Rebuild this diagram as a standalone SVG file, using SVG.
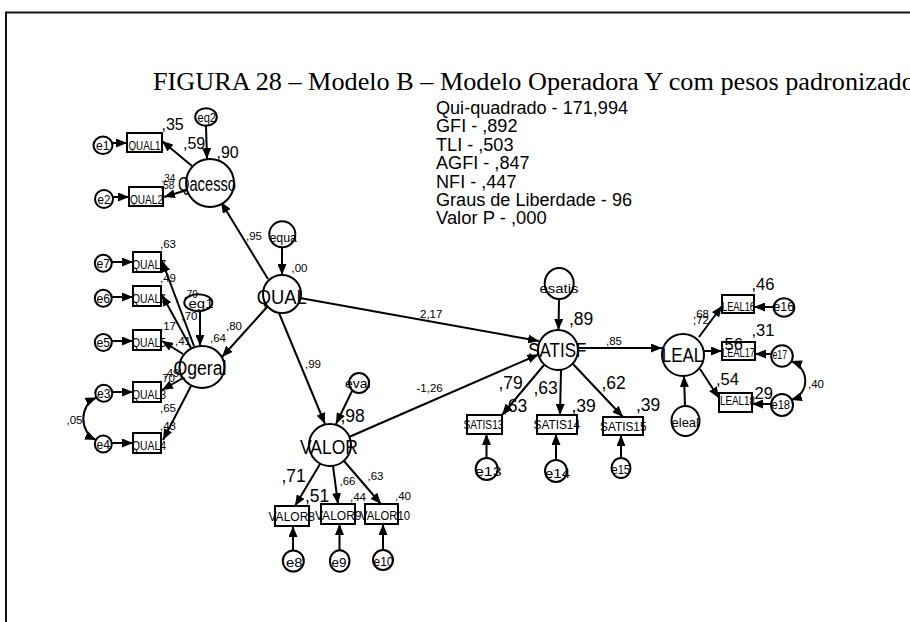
<svg xmlns="http://www.w3.org/2000/svg" width="910" height="622" viewBox="0 0 910 622">
  <defs>
    <style>
      text { font-family: "Liberation Sans", Arial, sans-serif; fill: #000; }
      .ttl { font-family: "Liberation Serif", "Times New Roman", serif; font-size: 25px; }
      .st { font-size: 17.5px; }
      .ln { font-size: 19.5px; }
      .on { font-size: 13px; }
      .on2 { font-size: 12.5px; }
      .en { font-size: 13.5px; }
      .sm { font-size: 11.5px; }
      .xs { font-size: 10px; }
      .md { font-size: 16px; }
      .lg { font-size: 17.5px; }
      .le { font-size: 16.5px; }
      .lat, .box, .err { fill: #fff; stroke: #000; stroke-width: 2; }
      .cn { fill: none; stroke: #000; stroke-width: 2; marker-end: url(#ah); }
      .cv { fill: none; stroke: #000; stroke-width: 2; marker-start: url(#ah); marker-end: url(#ah); }
      .frame { fill: none; stroke: #111; stroke-width: 2; }
    </style>
    <marker id="ah" markerUnits="userSpaceOnUse" viewBox="0 0 11 9" markerWidth="11" markerHeight="9" refX="11" refY="4.5" orient="auto-start-reverse">
      <path d="M0,0 L11,4.5 L0,9 z" fill="#000"/>
    </marker>
  </defs>

  <rect width="910" height="622" fill="#fff"/>
  <path class="frame" d="M6,622 V12.5 H910"/>

  <!-- heading and fit statistics -->
  <text class="ttl" x="153" y="90" textLength="772" lengthAdjust="spacingAndGlyphs">FIGURA 28 – Modelo B – Modelo Operadora Y com pesos padronizados</text>
  <g id="fit-stats" class="st">
    <text x="436" y="114" textLength="192" lengthAdjust="spacingAndGlyphs">Qui-quadrado - 171,994</text>
    <text x="436" y="132.4" textLength="81.5" lengthAdjust="spacingAndGlyphs">GFI - ,892</text>
    <text x="436" y="150.8" textLength="77.5" lengthAdjust="spacingAndGlyphs">TLI - ,503</text>
    <text x="436" y="169.2" textLength="93.6" lengthAdjust="spacingAndGlyphs">AGFI - ,847</text>
    <text x="436" y="187.6" textLength="80.5" lengthAdjust="spacingAndGlyphs">NFI - ,447</text>
    <text x="436" y="206" textLength="196" lengthAdjust="spacingAndGlyphs">Graus de Liberdade - 96</text>
    <text x="436" y="224.4" textLength="110.7" lengthAdjust="spacingAndGlyphs">Valor P - ,000</text>
  </g>

  <!-- paths (drawn under the variables) -->
  <g id="connectors">
    <!-- Qacesso block -->
    <path class="cn" d="M206,126 L207,159"/>
    <path class="cn" d="M192,166 L162,141"/>
    <path class="cn" d="M187,190 L164,197"/>
    <path class="cn" d="M112.5,143 L127,143"/>
    <path class="cn" d="M113,197 L129,197"/>
    <path class="cn" d="M268,279 L221,202"/>
    <!-- Qgeral block -->
    <path class="cn" d="M200,311 L200,346"/>
    <path class="cn" d="M194,346 L162,261"/>
    <path class="cn" d="M191,348 L162,295"/>
    <path class="cn" d="M183,354 L162,341"/>
    <path class="cn" d="M183,378 L162,390"/>
    <path class="cn" d="M191,386 L163,440"/>
    <path class="cn" d="M112,262 L133,262"/>
    <path class="cn" d="M112,297 L133,297"/>
    <path class="cn" d="M112,341 L133,341"/>
    <path class="cn" d="M112,392 L133,392"/>
    <path class="cn" d="M112,443 L133,443"/>
    <path class="cv" d="M96.5,397.5 C79,405 79,432 96,440"/>
    <path class="cn" d="M267,307 L222,357"/>
    <!-- QUAL and VALOR -->
    <path class="cn" d="M282,247 L282,275"/>
    <path class="cn" d="M279,313 L325,424"/>
    <path class="cn" d="M300,298 L539,341"/>
    <path class="cn" d="M349,437 L538.5,354.5"/>
    <path class="cn" d="M352,391 L336,424"/>
    <path class="cn" d="M320,464 L295,506"/>
    <path class="cn" d="M333,466 L338,504"/>
    <path class="cn" d="M344,461 L381,504"/>
    <path class="cn" d="M293,550 L293,526"/>
    <path class="cn" d="M339.5,550 L339.5,524"/>
    <path class="cn" d="M383,550 L383,524"/>
    <!-- SATISF block -->
    <path class="cn" d="M559,299 L558.5,330"/>
    <path class="cn" d="M578,348 L662,348"/>
    <path class="cn" d="M544,365 L502,415"/>
    <path class="cn" d="M561,370 L560,415"/>
    <path class="cn" d="M573,364 L623,417"/>
    <path class="cn" d="M486.5,458 L486.5,434"/>
    <path class="cn" d="M556,460 L556,434"/>
    <path class="cn" d="M621,458 L621,435"/>
    <!-- LEAL block -->
    <path class="cn" d="M685,406 L684,376"/>
    <path class="cn" d="M699,337 L722,306"/>
    <path class="cn" d="M704,351 L722,351"/>
    <path class="cn" d="M700,369 L719,398"/>
    <path class="cn" d="M774,307 L754,307"/>
    <path class="cn" d="M771,354 L755,354"/>
    <path class="cn" d="M771,404 L752,404"/>
    <path class="cv" d="M791,361 C810,368 810,394 791,400"/>
  </g>

  <!-- latent variables -->
  <g id="Qacesso"><circle class="lat" cx="210" cy="183" r="24"/><text class="ln" x="178" y="191" textLength="58" lengthAdjust="spacingAndGlyphs">Qacesso</text></g>
  <g id="Qgeral"><ellipse class="lat" cx="202" cy="367" rx="22.5" ry="21"/><text class="ln" x="173.5" y="375" textLength="53" lengthAdjust="spacingAndGlyphs">Qgeral</text></g>
  <g id="QUAL"><circle class="lat" cx="282" cy="294" r="19"/><text class="ln" x="256.7" y="304.3" textLength="50" lengthAdjust="spacingAndGlyphs">QUAL</text></g>
  <g id="VALOR"><circle class="lat" cx="330" cy="445" r="21"/><text class="ln" x="300" y="454" textLength="58" lengthAdjust="spacingAndGlyphs">VALOR</text></g>
  <g id="SATISF"><circle class="lat" cx="558" cy="350" r="20"/><text class="ln" x="528.3" y="357.3" textLength="58" lengthAdjust="spacingAndGlyphs">SATISF</text></g>
  <g id="LEAL"><circle class="lat" cx="683" cy="355" r="21"/><text class="ln" x="661.7" y="362.3" textLength="41.6" lengthAdjust="spacingAndGlyphs">LEAL</text></g>

  <!-- observed indicators -->
  <g id="QUAL1"><rect class="box" x="127" y="133" width="35" height="19"/><text class="on" x="128.5" y="149.5" textLength="32" lengthAdjust="spacingAndGlyphs">QUAL1</text></g>
  <g id="QUAL2"><rect class="box" x="129" y="187" width="34" height="19"/><text class="on" x="130" y="203.5" textLength="33" lengthAdjust="spacingAndGlyphs">QUAL2</text></g>
  <g id="QUAL7"><rect class="box" x="133" y="252" width="28" height="20"/><text class="on" x="132" y="268.5" textLength="34" lengthAdjust="spacingAndGlyphs">QUAL7</text></g>
  <g id="QUAL6"><rect class="box" x="133" y="286" width="28" height="20"/><text class="on" x="132" y="302.5" textLength="34" lengthAdjust="spacingAndGlyphs">QUAL6</text></g>
  <g id="QUAL5"><rect class="box" x="133" y="330" width="28" height="20"/><text class="on" x="132" y="346.5" textLength="34" lengthAdjust="spacingAndGlyphs">QUAL5</text></g>
  <g id="QUAL3"><rect class="box" x="133" y="382" width="28" height="20"/><text class="on" x="132" y="398.5" textLength="34" lengthAdjust="spacingAndGlyphs">QUAL3</text></g>
  <g id="QUAL4"><rect class="box" x="133" y="433" width="28" height="20"/><text class="on" x="132" y="449.5" textLength="34" lengthAdjust="spacingAndGlyphs">QUAL4</text></g>
  <g id="VALOR8"><rect class="box" x="275" y="506" width="34" height="20"/><text class="on2" x="268.5" y="521" textLength="46.5" lengthAdjust="spacingAndGlyphs">VALOR8</text></g>
  <g id="VALOR9"><rect class="box" x="321" y="504" width="34" height="20"/><text class="on2" x="315" y="519.5" textLength="46.5" lengthAdjust="spacingAndGlyphs">VALOR9</text></g>
  <g id="VALOR10"><rect class="box" x="365" y="504" width="33" height="20"/><text class="on2" x="360" y="519.5" textLength="50" lengthAdjust="spacingAndGlyphs">VALOR10</text></g>
  <g id="SATIS13"><rect class="box" x="467" y="415" width="35" height="19"/><text class="on2" x="463.5" y="429" textLength="40" lengthAdjust="spacingAndGlyphs">SATIS13</text></g>
  <g id="SATIS14"><rect class="box" x="537" y="415" width="40" height="19"/><text class="on2" x="533.5" y="429" textLength="46.5" lengthAdjust="spacingAndGlyphs">SATIS14</text></g>
  <g id="SATIS15"><rect class="box" x="603" y="417" width="40" height="18"/><text class="on2" x="600" y="430.5" textLength="46.5" lengthAdjust="spacingAndGlyphs">SATIS15</text></g>
  <g id="LEAL16"><rect class="box" x="722" y="295" width="32" height="18"/><text class="on2" x="722" y="310.5" textLength="33" lengthAdjust="spacingAndGlyphs">LEAL16</text></g>
  <g id="LEAL17"><rect class="box" x="722" y="342" width="33" height="18"/><text class="on2" x="722" y="357" textLength="33" lengthAdjust="spacingAndGlyphs">LEAL17</text></g>
  <g id="LEAL18"><rect class="box" x="719" y="393" width="33" height="19"/><text class="on2" x="720" y="405" textLength="35" lengthAdjust="spacingAndGlyphs">LEAL18</text></g>

  <!-- residuals and disturbances -->
  <g id="e1"><ellipse class="err" cx="103" cy="145.3" rx="9.5" ry="8.7"/><text class="en" x="96" y="150" textLength="13.5" lengthAdjust="spacingAndGlyphs">e1</text></g>
  <g id="eq2"><ellipse class="err" cx="206" cy="117" rx="10.8" ry="8.8"/><text class="en" x="197.5" y="121.5" textLength="18.5" lengthAdjust="spacingAndGlyphs">eq2</text></g>
  <g id="e2"><circle class="err" cx="104" cy="199" r="9"/><text class="en" x="97.5" y="203.5" textLength="13" lengthAdjust="spacingAndGlyphs">e2</text></g>
  <g id="e7"><circle class="err" cx="103.3" cy="263.3" r="8.5"/><text class="en" x="96.5" y="267.5" textLength="13.5" lengthAdjust="spacingAndGlyphs">e7</text></g>
  <g id="e6"><circle class="err" cx="103.3" cy="298.3" r="8.5"/><text class="en" x="96.5" y="302.5" textLength="13.5" lengthAdjust="spacingAndGlyphs">e6</text></g>
  <g id="e5"><circle class="err" cx="103.3" cy="342.5" r="8.5"/><text class="en" x="96.5" y="347" textLength="13.5" lengthAdjust="spacingAndGlyphs">e5</text></g>
  <g id="e3"><circle class="err" cx="103.8" cy="393.3" r="8.5"/><text class="en" x="97" y="397.5" textLength="13.5" lengthAdjust="spacingAndGlyphs">e3</text></g>
  <g id="e4"><circle class="err" cx="103.3" cy="444" r="8.5"/><text class="en" x="96.5" y="448.5" textLength="13.5" lengthAdjust="spacingAndGlyphs">e4</text></g>
  <g id="eg1"><ellipse class="err" cx="198.3" cy="302.7" rx="14" ry="8.5"/><text class="en" x="188.5" y="308" textLength="25" lengthAdjust="spacingAndGlyphs">eg1</text></g>
  <g id="equa"><circle class="err" cx="282.3" cy="234.3" r="13"/><text class="en" x="269.5" y="241.5" textLength="27.5" lengthAdjust="spacingAndGlyphs">equa</text></g>
  <g id="eval"><circle class="err" cx="359" cy="383" r="10"/><text class="en" x="345" y="388" textLength="25.5" lengthAdjust="spacingAndGlyphs">eval</text></g>
  <g id="e8"><circle class="err" cx="293.3" cy="561" r="10.5"/><text class="en" x="286" y="566.5" textLength="16.5" lengthAdjust="spacingAndGlyphs">e8</text></g>
  <g id="e9"><ellipse class="err" cx="339.7" cy="561" rx="9.8" ry="10.8"/><text class="en" x="331.5" y="566.5" textLength="15" lengthAdjust="spacingAndGlyphs">e9</text></g>
  <g id="e10"><circle class="err" cx="383" cy="560" r="10"/><text class="en" x="373.5" y="566" textLength="20" lengthAdjust="spacingAndGlyphs">e10</text></g>
  <g id="esatis"><ellipse class="err" cx="559.2" cy="283.5" rx="14.5" ry="15.5"/><text class="en" x="539.5" y="293" textLength="39" lengthAdjust="spacingAndGlyphs">esatis</text></g>
  <g id="e13"><circle class="err" cx="486.7" cy="469" r="11"/><text class="en" x="475" y="476" textLength="26.5" lengthAdjust="spacingAndGlyphs">e13</text></g>
  <g id="e14"><circle class="err" cx="556" cy="471" r="11"/><text class="en" x="545" y="478" textLength="25" lengthAdjust="spacingAndGlyphs">e14</text></g>
  <g id="e15"><ellipse class="err" cx="621" cy="468" rx="9.5" ry="10"/><text class="en" x="611.5" y="473.5" textLength="18.5" lengthAdjust="spacingAndGlyphs">e15</text></g>
  <g id="e16"><ellipse class="err" cx="784" cy="307.5" rx="10.3" ry="9.3"/><text class="en" x="773.5" y="311" textLength="20.5" lengthAdjust="spacingAndGlyphs">e16</text></g>
  <g id="e17"><circle class="err" cx="782" cy="356" r="10.8"/><text class="en" x="772.5" y="358.5" textLength="14.5" lengthAdjust="spacingAndGlyphs">e17</text></g>
  <g id="e18"><circle class="err" cx="782" cy="405" r="11"/><text class="en" x="771.5" y="408.5" textLength="18.5" lengthAdjust="spacingAndGlyphs">e18</text></g>
  <g id="eleal"><ellipse class="err" cx="685.5" cy="421" rx="14" ry="15"/><text class="en" x="671.5" y="426.5" textLength="27.5" lengthAdjust="spacingAndGlyphs">eleal</text></g>

  <!-- standardized estimates and squared multiple correlations -->
  <g id="estimates">
    <text class="md" x="161.5" y="130">,35</text>
    <text class="md" x="183" y="149">,59</text>
    <text class="md" x="216.5" y="158">,90</text>
    <text class="xs" x="161.5" y="181.5">,34</text>
    <text class="xs" x="160.5" y="188.5">,58</text>

    <text class="sm" x="246" y="240">,95</text>
    <text class="sm" x="291.5" y="271.5">,00</text>
    <text class="sm" x="226" y="330">,80</text>
    <text class="sm" x="210" y="341.5">,64</text>
    <text class="xs" x="184" y="298">,79</text>
    <text class="sm" x="181.5" y="320">,70</text>
    <text class="sm" x="160" y="247.5">,63</text>
    <text class="sm" x="160" y="281.5">,49</text>
    <text class="sm" x="160" y="329.5">,17</text>
    <text class="sm" x="175" y="345">,41</text>
    <text class="sm" x="163.5" y="377">,49</text>
    <text class="sm" x="159" y="381.5">,70</text>
    <text class="sm" x="160" y="411.5">,65</text>
    <text class="sm" x="160" y="430">,43</text>
    <text class="sm" x="66.5" y="424">,05</text>

    <text class="sm" x="305" y="368">,99</text>
    <text class="sm" x="420" y="318">2,17</text>
    <text class="sm" x="416.5" y="391.5">-1,26</text>
    <text class="sm" x="606" y="345">,85</text>

    <text class="lg" x="340.5" y="421.5">,98</text>
    <text class="lg" x="281.5" y="481.5">,71</text>
    <text class="lg" x="305" y="501.5">,51</text>
    <text class="sm" x="339.5" y="485">,66</text>
    <text class="sm" x="367.5" y="480">,63</text>
    <text class="sm" x="350" y="500.5">,44</text>
    <text class="sm" x="395" y="499.5">,40</text>

    <text class="lg" x="569" y="325">,89</text>
    <text class="lg" x="498.5" y="388.5">,79</text>
    <text class="lg" x="503" y="411.5">,63</text>
    <text class="lg" x="533.5" y="393.5">,63</text>
    <text class="lg" x="571.5" y="411.5">,39</text>
    <text class="lg" x="601.5" y="388.5">,62</text>
    <text class="lg" x="636" y="410.5">,39</text>

    <text class="le" x="751.5" y="289.5">,46</text>
    <text class="le" x="751.5" y="336">,31</text>
    <text class="le" x="720" y="349.5">,56</text>
    <text class="le" x="716" y="385">,54</text>
    <text class="le" x="750" y="398.5">,29</text>
    <text class="sm" x="693" y="317.5">,68</text>
    <text class="sm" x="693" y="324">,72</text>
    <text class="sm" x="808" y="387.5">,40</text>
  </g>
</svg>
